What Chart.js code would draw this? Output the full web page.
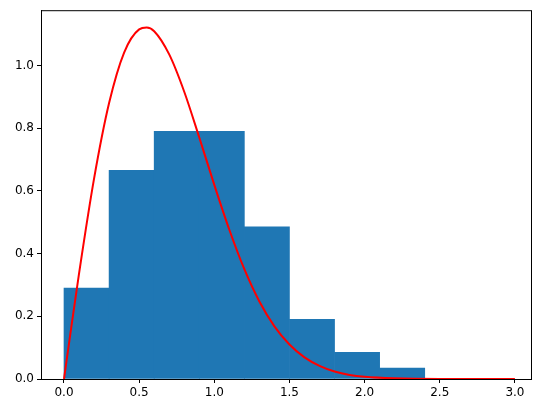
<!DOCTYPE html>
<html><head><meta charset="utf-8">
<script src="https://cdn.jsdelivr.net/npm/chart.js@4/dist/chart.umd.min.js"></script>
<style>body{margin:0;background:#fff}#wrap{width:547px;height:413px}</style>
</head><body><div id="wrap"><canvas id="c"></canvas></div>
<script>
const binCenters = [0.15, 0.45, 0.75, 1.05, 1.35, 1.65, 1.95, 2.25];
const binHeights = [0.29, 0.665, 0.79, 0.79, 0.485, 0.19, 0.085, 0.035];
const curveX = [0, 0.05, 0.1, 0.2, 0.3, 0.4, 0.5, 0.55, 0.6, 0.7, 0.8, 0.9, 1.0, 1.1, 1.2, 1.3, 1.4, 1.5, 1.6, 1.7, 1.8, 1.9, 2.0, 2.2, 2.5, 3.0];
const curveY = [0, 0.17, 0.336, 0.639, 0.88, 1.041, 1.115, 1.121, 1.109, 1.035, 0.916, 0.77, 0.619, 0.476, 0.35, 0.247, 0.168, 0.11, 0.069, 0.042, 0.024, 0.013, 0.007, 0.002, 0, 0];
const xTicks = [0, 0.5, 1.0, 1.5, 2.0, 2.5, 3.0];
const yTicks = [0, 0.2, 0.4, 0.6, 0.8, 1.0];

const font = {family: 'DejaVu Sans', size: 12};
const boxPlugin = {
  id: 'box',
  afterDraw(chart) {
    const a = chart.chartArea, ctx = chart.ctx;
    ctx.save(); ctx.strokeStyle = '#000'; ctx.lineWidth = 1;
    ctx.strokeRect(a.left + 0.5, a.top + 0.5, a.right - a.left, a.bottom - a.top);
    ctx.restore();
  }
};

new Chart(document.getElementById('c'), {
  type: 'bar',
  data: {
    datasets: [
      {type: 'line', data: curveX.map((x, i) => ({x: x, y: curveY[i]})), borderColor: '#ff0000', borderWidth: 2, pointRadius: 0, cubicInterpolationMode: 'monotone', order: 0},
      {data: binCenters.map((x, i) => ({x: x, y: binHeights[i]})), backgroundColor: '#1f77b4', barPercentage: 1, categoryPercentage: 1, order: 1}
    ]
  },
  options: {
    responsive: true, maintainAspectRatio: false, animation: false,
    layout: {padding: {top: 10, right: 16}},
    plugins: {legend: {display: false}, tooltip: {enabled: false}},
    scales: {
      x: {type: 'linear', min: -0.153, max: 3.107, offset: false,
        afterBuildTicks: s => { s.ticks = xTicks.map(v => ({value: v})); },
        afterFit: s => { s.height = 34; },
        grid: {drawOnChartArea: false, tickLength: 4, color: '#000', offset: false},
        border: {color: '#000'},
        ticks: {color: '#000', font: font, callback: v => v.toFixed(1)}},
      y: {min: 0, max: 1.176,
        afterBuildTicks: s => { s.ticks = yTicks.map(v => ({value: v})); },
        afterFit: s => { s.width = 41; },
        grid: {drawOnChartArea: false, tickLength: 4, color: '#000'},
        border: {color: '#000'},
        ticks: {color: '#000', font: font, callback: v => v.toFixed(1)}}
    }
  },
  plugins: [boxPlugin]
});
</script></body></html>
